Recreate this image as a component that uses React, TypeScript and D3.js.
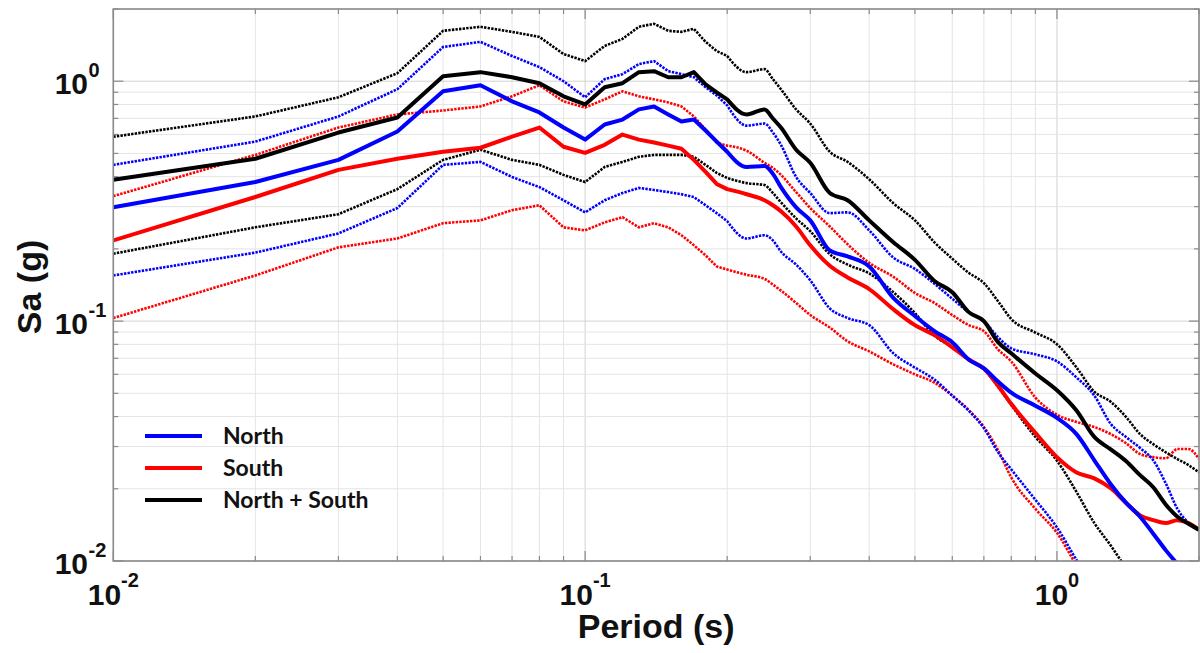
import React from "react";
import * as d3 from "d3";

// Periods (s) at which the spectra are sampled
const periods = [
  0.01, 0.02, 0.03, 0.04, 0.05, 0.06, 0.07, 0.08, 0.09, 0.1,
  0.11, 0.12, 0.13, 0.14, 0.15, 0.16, 0.17, 0.18, 0.19, 0.2,
  0.22, 0.24, 0.25, 0.26, 0.28, 0.3, 0.33, 0.36, 0.4, 0.45,
  0.5, 0.55, 0.6, 0.65, 0.7, 0.75, 0.8, 0.9, 1.0, 1.1,
  1.2, 1.3, 1.4, 1.5, 1.6, 1.7, 1.8, 1.9, 2.0,
];

// North (blue)
const northMedian = [
  0.298, 0.380, 0.470, 0.617, 0.908, 0.962, 0.824, 0.741, 0.641, 0.571,
  0.660, 0.692, 0.763, 0.785, 0.727, 0.679, 0.692, 0.623, 0.560, 0.508,
  0.439, 0.443, 0.411, 0.362, 0.298, 0.263, 0.197, 0.186, 0.169, 0.125,
  0.105, 0.0908, 0.0816, 0.0692, 0.0635, 0.0560, 0.0503, 0.0444, 0.0395, 0.0338,
  0.0263, 0.0209, 0.0175, 0.0153, 0.0130, 0.0111, 0.0097, 0.0085, 0.0074,
];
const northUpper = [
  0.448, 0.560, 0.713, 0.926, 1.389, 1.459, 1.274, 1.145, 1.0, 0.857,
  1.020, 1.070, 1.179, 1.213, 1.102, 1.070, 1.039, 0.944, 0.873, 0.793,
  0.653, 0.666, 0.611, 0.543, 0.399, 0.342, 0.282, 0.284, 0.239, 0.184,
  0.165, 0.143, 0.124, 0.109, 0.100, 0.0857, 0.0770, 0.0727, 0.0679, 0.0582,
  0.0489, 0.0373, 0.0329, 0.0296, 0.0263, 0.0211, 0.0165, 0.0144, 0.0134,
];
const northLower = [
  0.155, 0.193, 0.232, 0.296, 0.448, 0.461, 0.399, 0.362, 0.319, 0.284,
  0.319, 0.342, 0.359, 0.352, 0.345, 0.338, 0.329, 0.304, 0.282, 0.261,
  0.221, 0.228, 0.217, 0.195, 0.172, 0.148, 0.113, 0.103, 0.0962, 0.0734,
  0.0640, 0.0571, 0.0489, 0.0423, 0.0358, 0.0284, 0.0241, 0.0180, 0.0138, 0.0101,
  0.0077,
];

// South (red)
const southMedian = [
  0.217, 0.329, 0.427, 0.475, 0.508, 0.528, 0.587, 0.641, 0.533, 0.503,
  0.543, 0.599, 0.571, 0.555, 0.539, 0.523, 0.470, 0.419, 0.373, 0.355,
  0.338, 0.319, 0.304, 0.287, 0.248, 0.207, 0.170, 0.152, 0.136, 0.112,
  0.0962, 0.0874, 0.0778, 0.0692, 0.0635, 0.0538, 0.0452, 0.0342, 0.0271, 0.0234,
  0.0221, 0.0201, 0.0175, 0.0155, 0.0148, 0.0144, 0.0148, 0.0144, 0.0135,
];
const southUpper = [
  0.332, 0.493, 0.641, 0.727, 0.755, 0.785, 0.865, 0.962, 0.824, 0.777,
  0.840, 0.908, 0.865, 0.840, 0.816, 0.785, 0.713, 0.629, 0.555, 0.539,
  0.513, 0.457, 0.435, 0.407, 0.345, 0.296, 0.248, 0.209, 0.175, 0.153,
  0.131, 0.119, 0.106, 0.0962, 0.0908, 0.0762, 0.0679, 0.0480, 0.0407, 0.0380,
  0.0362, 0.0338, 0.0310, 0.0279, 0.0271, 0.0268, 0.0293, 0.0293, 0.0266,
];
const southLower = [
  0.103, 0.155, 0.203, 0.221, 0.256, 0.263, 0.290, 0.304, 0.246, 0.239,
  0.258, 0.271, 0.246, 0.256, 0.246, 0.228, 0.207, 0.188, 0.169, 0.164,
  0.156, 0.150, 0.142, 0.134, 0.119, 0.106, 0.094, 0.0824, 0.0748, 0.066,
  0.060, 0.0554, 0.0489, 0.0426, 0.0362, 0.0290, 0.0223, 0.0165, 0.0131, 0.0096,
  0.0074,
];

// North + South (black)
const allMedian = [
  0.388, 0.475, 0.611, 0.706, 1.049, 1.091, 1.039, 0.981, 0.865, 0.800,
  0.944, 0.981, 1.091, 1.101, 1.039, 1.039, 1.091, 0.971, 0.899, 0.840,
  0.727, 0.763, 0.699, 0.641, 0.518, 0.457, 0.342, 0.319, 0.263, 0.213,
  0.180, 0.147, 0.132, 0.109, 0.100, 0.0817, 0.0734, 0.0605, 0.0515, 0.0424,
  0.0329, 0.0292, 0.0261, 0.0228, 0.0203, 0.0172, 0.0153, 0.0143, 0.0135,
];
const allUpper = [
  0.587, 0.713, 0.857, 1.080, 1.622, 1.686, 1.606, 1.530, 1.298, 1.213,
  1.403, 1.501, 1.686, 1.736, 1.622, 1.606, 1.654, 1.459, 1.337, 1.274,
  1.091, 1.123, 1.020, 0.926, 0.763, 0.666, 0.508, 0.461, 0.390, 0.310,
  0.263, 0.213, 0.182, 0.159, 0.144, 0.121, 0.102, 0.0896, 0.0801, 0.0641,
  0.0508, 0.0461, 0.0399, 0.0338, 0.0307, 0.0284, 0.0266, 0.0251, 0.0234,
];
const allLower = [
  0.191, 0.246, 0.279, 0.355, 0.470, 0.518, 0.470, 0.448, 0.407, 0.380,
  0.439, 0.461, 0.484, 0.493, 0.493, 0.493, 0.484, 0.448, 0.415, 0.395,
  0.376, 0.369, 0.342, 0.313, 0.268, 0.237, 0.190, 0.172, 0.158, 0.132,
  0.108, 0.087, 0.078, 0.069, 0.063, 0.0533, 0.0447, 0.0329, 0.0262, 0.0194,
  0.0144, 0.0116, 0.00935, 0.0077,
];

const legendLabels = ["North", "South", "North + South"];
const xTickExponents = [-2, -1, 0];
const yTickExponents = [-2, -1, 0];
const xLabel = "Period (s)";
const yLabel = "Sa (g)";

const BLUE = "#0000ff";
const RED = "#ff0000";
const BLACK = "#000000";

// index of the period where the sampled (kinked) part ends and the smooth part begins
const SMOOTH_FROM = 19;

function minorValues(lo: number, hi: number) {
  const out: number[] = [];
  for (let e = -2; e <= 0; e++) {
    for (let m = 1; m <= 9; m++) {
      const v = m * Math.pow(10, e);
      if (v >= lo - 1e-9 && v <= hi + 1e-9) out.push(v);
    }
  }
  return out;
}

export default function App() {
  const left = 113.3, right = 1199, top = 9, bottom = 561;
  const x = d3.scaleLog().domain([0.01, 2]).range([left, right]);
  const y = d3.scaleLog().domain([0.01, 2]).range([bottom, top]);

  const lineLin = d3
    .line<[number, number]>()
    .x((d) => x(d[0]))
    .y((d) => y(d[1]))
    .curve(d3.curveLinear);
  const lineSmooth = d3
    .line<[number, number]>()
    .x((d) => x(d[0]))
    .y((d) => y(d[1]))
    .curve(d3.curveMonotoneX);

  const pts = (vals: number[]) =>
    vals.map((v, i) => [periods[i], v] as [number, number]);

  const pathFor = (vals: number[]) => {
    const p = pts(vals);
    const a = lineLin(p.slice(0, SMOOTH_FROM + 1)) || "";
    const b = lineSmooth(p.slice(SMOOTH_FROM)) || "";
    // continue the path: drop the initial move of the smooth part
    return a + b.replace(/^M[^A-Za-z]*/, "");
  };

  const dotted = [
    { vals: southUpper, color: RED },
    { vals: southLower, color: RED },
    { vals: northUpper, color: BLUE },
    { vals: northLower, color: BLUE },
    { vals: allUpper, color: BLACK },
    { vals: allLower, color: BLACK },
  ];
  const solid = [
    { vals: southMedian, color: RED },
    { vals: northMedian, color: BLUE },
    { vals: allMedian, color: BLACK },
  ];

  const gridVals = minorValues(0.01, 2);
  const majors = [0.01, 0.1, 1];
  const isMajor = (v: number) => majors.some((m) => Math.abs(m - v) < 1e-9);

  const axisColor = "#8a8a8a";
  const tickFont = "'Liberation Sans', Arial, sans-serif";

  return (
    <svg
      width={1200}
      height={653}
      style={{ position: "absolute", left: 0, top: 0, background: "#fff" }}
    >
      <defs>
        <clipPath id="plotClip">
          <rect x={left} y={top} width={right - left} height={bottom - top} />
        </clipPath>
      </defs>
      <rect x={0} y={0} width={1200} height={653} fill="#fff" />

      {/* grid */}
      <g>
        {gridVals.map((v, i) => (
          <line
            key={"gx" + i}
            x1={x(v)}
            x2={x(v)}
            y1={top}
            y2={bottom}
            stroke={isMajor(v) ? "#d2d2d2" : "#e4e4e4"}
            strokeWidth={1}
          />
        ))}
        {gridVals.map((v, i) => (
          <line
            key={"gy" + i}
            y1={y(v)}
            y2={y(v)}
            x1={left}
            x2={right}
            stroke={isMajor(v) ? "#d2d2d2" : "#e4e4e4"}
            strokeWidth={1}
          />
        ))}
      </g>

      {/* ticks */}
      <g stroke={axisColor} strokeWidth={1.2}>
        {gridVals.map((v, i) => {
          const len = isMajor(v) ? 10 : 5;
          return (
            <g key={"t" + i}>
              <line x1={x(v)} x2={x(v)} y1={bottom} y2={bottom - len} />
              <line x1={x(v)} x2={x(v)} y1={top} y2={top + len} />
              <line x1={left} x2={left + len} y1={y(v)} y2={y(v)} />
              <line x1={right} x2={right - len} y1={y(v)} y2={y(v)} />
            </g>
          );
        })}
      </g>

      {/* data */}
      <g clipPath="url(#plotClip)" fill="none">
        {dotted.map((s, i) => (
          <path
            key={"d" + i}
            d={pathFor(s.vals)}
            stroke={s.color}
            strokeWidth={2.6}
            strokeDasharray="2.4 1.2"
          />
        ))}
        {solid.map((s, i) => (
          <path
            key={"s" + i}
            d={pathFor(s.vals)}
            stroke={s.color}
            strokeWidth={4}
            strokeLinejoin="round"
          />
        ))}
      </g>

      {/* box */}
      <rect
        x={left}
        y={top}
        width={right - left}
        height={bottom - top}
        fill="none"
        stroke={axisColor}
        strokeWidth={1.6}
      />

      {/* y tick labels */}
      {yTickExponents.map((e) => (
        <text
          key={"yl" + e}
          x={88}
          y={y(Math.pow(10, e)) + 13}
          textAnchor="end"
          fontFamily={tickFont}
          fontWeight="bold"
          fontSize={30}
          fill="#111"
        >
          10
        </text>
      ))}
      {yTickExponents.map((e) => (
        <text
          key={"ys" + e}
          x={88.5}
          y={y(Math.pow(10, e)) - 4}
          textAnchor="start"
          fontFamily={tickFont}
          fontWeight="bold"
          fontSize={20}
          fill="#111"
        >
          {String(e)}
        </text>
      ))}

      {/* x tick labels */}
      {xTickExponents.map((e) => (
        <text
          key={"xl" + e}
          x={x(Math.pow(10, e))}
          y={605}
          textAnchor="middle"
          fontFamily={tickFont}
          fontWeight="bold"
          fontSize={30}
          fill="#111"
        >
          10
          <tspan dy={-18} fontSize={20}>
            {String(e)}
          </tspan>
        </text>
      ))}

      {/* axis labels */}
      <text
        x={(left + right) / 2}
        y={638}
        textAnchor="middle"
        fontFamily={tickFont}
        fontWeight="bold"
        fontSize={34}
        fill="#111"
      >
        {xLabel}
      </text>
      <text
        transform={`translate(41, ${(top + bottom) / 2 + 2}) rotate(-90)`}
        textAnchor="middle"
        fontFamily={tickFont}
        fontWeight="bold"
        fontSize={34}
        fill="#111"
      >
        {yLabel}
      </text>

      {/* legend */}
      {legendLabels.map((lab, i) => {
        const ly = 436 + i * 32;
        const col = [BLUE, RED, BLACK][i];
        return (
          <g key={"lg" + i}>
            <line x1={145} x2={202} y1={ly} y2={ly} stroke={col} strokeWidth={4} />
            <text
              x={223}
              y={ly + 8}
              fontFamily="Lato, 'Open Sans', sans-serif"
              fontWeight="bold"
              fontSize={23}
              fill="#111"
            >
              {lab}
            </text>
          </g>
        );
      })}
    </svg>
  );
}
